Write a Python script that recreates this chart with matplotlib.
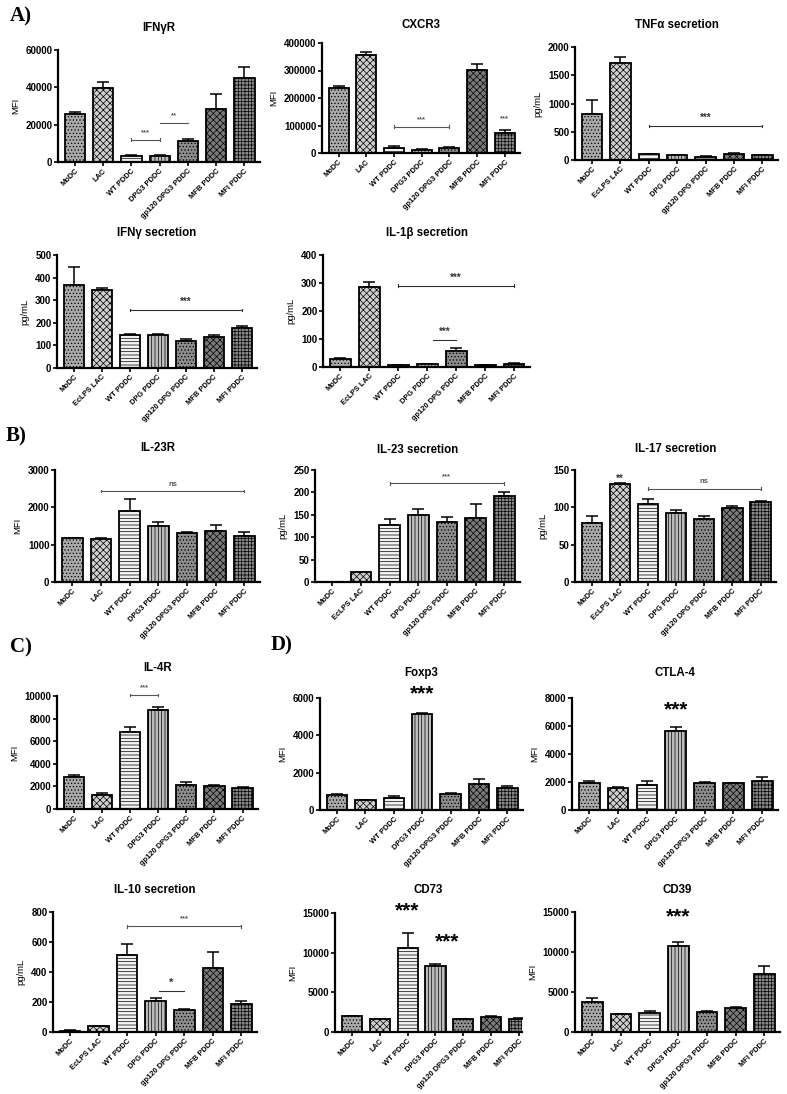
import matplotlib
matplotlib.use("Agg")
import matplotlib.pyplot as plt

plt.rcParams['font.family'] = ['Liberation Sans', 'DejaVu Sans']
plt.rcParams['font.weight'] = 'bold'
plt.rcParams['hatch.linewidth'] = 0.5

# category label sets used by the panels
groups_lac_dpg3 = ["MoDC", "LAC", "WT PDDC", "DPG3 PDDC", "gp120 DPG3 PDDC", "MFB PDDC", "MFI PDDC"]
groups_lps_dpg = ["MoDC", "EcLPS LAC", "WT PDDC", "DPG PDDC", "gp120 DPG PDDC", "MFB PDDC", "MFI PDDC"]

# values (mean) and upper error (SEM)
ifngr_mean = [25500, 39500, 3000, 3200, 11000, 28500, 45000]
ifngr_err = [1500, 3200, 1000, 300, 1500, 8000, 6000]
cxcr3_mean = [235000, 357000, 18000, 10000, 20000, 302000, 72000]
cxcr3_err = [10000, 11000, 9000, 3000, 3000, 23000, 11000]
tnfa_mean = [820, 1720, 100, 80, 60, 105, 90]
tnfa_err = [240, 110, 5, 3, 3, 15, 5]
ifng_mean = [368, 343, 148, 145, 118, 135, 177]
ifng_err = [77, 10, 4, 5, 10, 13, 8]
il1b_mean = [28, 285, 7, 10, 58, 6, 12]
il1b_err = [5, 20, 1, 2, 10, 1, 3]
il23r_mean = [1180, 1150, 1900, 1500, 1300, 1370, 1220]
il23r_err = [5, 30, 330, 100, 40, 150, 110]
il23_mean = [0, 22, 128, 150, 133, 142, 191]
il23_err = [0, 1, 12, 13, 11, 31, 11]
il17_mean = [79, 131, 104, 92, 85, 99, 107]
il17_err = [9, 1, 7, 5, 3, 3, 1]
il4r_mean = [2850, 1250, 6850, 8750, 2100, 2050, 1850]
il4r_err = [150, 200, 400, 300, 300, 100, 100]
foxp3_mean = [800, 530, 650, 5150, 850, 1400, 1200]
foxp3_err = [70, 10, 80, 50, 50, 250, 70]
ctla4_mean = [1900, 1600, 1800, 5650, 1900, 1900, 2050]
ctla4_err = [150, 10, 250, 250, 80, 10, 300]
il10_mean = [10, 38, 515, 210, 145, 428, 185]
il10_err = [2, 2, 75, 15, 10, 107, 25]
cd73_mean = [2000, 1600, 10600, 8300, 1600, 1950, 1700]
cd73_err = [20, 20, 1900, 300, 20, 100, 20]
cd39_mean = [3800, 2200, 2400, 10700, 2550, 3050, 7300]
cd39_err = [400, 20, 200, 600, 20, 20, 1000]

bar_styles = [
    ("#a9a9a9", "....."),
    ("#cfcfcf", "xxxxx"),
    ("#f2f2f2", "-----"),
    ("#bdbdbd", "|||||"),
    ("#8c8c8c", "....."),
    ("#7a7a7a", "xxxxx"),
    ("#8a8a8a", "+++++"),
]

W, H = 787, 1094
fig = plt.figure(figsize=(W / 100, H / 100), dpi=100)


def make_axes(left, top, right, bottom):
    return fig.add_axes([left / W, 1 - bottom / H, (right - left) / W, (bottom - top) / H])


def draw_panel(box, title, title_y, labels, means, errs, ymax, ystep, ylabel, xmax=6.55):
    ax = make_axes(*box)
    x = list(range(len(means)))
    for i in x:
        fc, hatch = bar_styles[i]
        ax.bar(i, means[i], width=0.72, color=fc, edgecolor="black", hatch=hatch, linewidth=1.3, zorder=2)
    ax.errorbar(x, means, yerr=[[0] * len(errs), errs], fmt="none", ecolor="black",
                elinewidth=1.1, capsize=4, capthick=1.1, zorder=1)
    ax.set_xlim(-0.6, xmax)
    ax.set_ylim(0, ymax)
    ax.set_yticks(range(0, ymax + 1, ystep))
    ax.set_xticks(x)
    ax.set_xticklabels(labels, rotation=45, ha="right", rotation_mode="anchor", fontsize=5.4)
    ax.tick_params(axis="y", labelsize=7, length=3, width=1.2, pad=1)
    ax.tick_params(axis="x", length=3, width=1.2, pad=1)
    for s in ["top", "right"]:
        ax.spines[s].set_visible(False)
    for s in ["left", "bottom"]:
        ax.spines[s].set_linewidth(1.6)
    ax.set_ylabel(ylabel, fontsize=6.8, labelpad=4)
    cx = (box[0] + box[2]) / 2
    fig.text(cx / W, 1 - title_y / H, title, ha="center", va="center", fontsize=8.3)
    return ax


def sig_line(ax, x0, x1, y, text, caps=True, fs=5.5, color="#555555"):
    ax.plot([x0, x1], [y, y], color=color, lw=0.8, clip_on=False)
    if caps:
        ymax = ax.get_ylim()[1]
        d = ymax * 0.012
        ax.plot([x0, x0], [y - d, y + d], color=color, lw=0.8, clip_on=False)
        ax.plot([x1, x1], [y - d, y + d], color=color, lw=0.8, clip_on=False)
    ax.text((x0 + x1) / 2, y + ax.get_ylim()[1] * 0.03, text, ha="center", va="bottom",
            fontsize=fs, color=color, clip_on=False)


def big_stars(ax, x, y):
    ax.text(x, y, "***", ha="center", va="center", fontsize=15, clip_on=False)


# panel letters
for txt, px, py in [("A)", 10, 16), ("B)", 6, 436), ("C)", 10, 647), ("D)", 271, 645)]:
    fig.text(px / W, 1 - py / H, txt, fontsize=15, fontweight="bold",
             family=["Liberation Serif", "DejaVu Serif"], ha="left", va="center")

ax = draw_panel((58, 50, 260, 162), "IFNγR", 28, groups_lac_dpg3, ifngr_mean, ifngr_err, 60000, 20000, "MFI")
sig_line(ax, 2.0, 3.0, 12000, "***")
sig_line(ax, 3.0, 4.0, 21000, "**", caps=False)

ax = draw_panel((322, 43, 520, 153), "CXCR3", 25, groups_lac_dpg3, cxcr3_mean, cxcr3_err, 400000, 100000, "MFI")
sig_line(ax, 2.0, 4.0, 96000, "***")
ax.text(6, 112000, "***", ha="center", va="bottom", fontsize=5.5, color="#555555")

ax = draw_panel((575, 47, 778, 160), "TNFα secretion", 25, groups_lps_dpg, tnfa_mean, tnfa_err, 2000, 500, "pg/mL")
sig_line(ax, 2.0, 6.0, 600, "***", fs=7, color="#333333")

ax = draw_panel((57, 255, 257, 368), "IFNγ secretion", 233, groups_lps_dpg, ifng_mean, ifng_err, 500, 100, "pg/mL")
sig_line(ax, 2.0, 6.0, 256, "***", fs=7, color="#333333")

ax = draw_panel((323, 255, 530, 367), "IL-1β secretion", 233, groups_lps_dpg, il1b_mean, il1b_err, 400, 100, "pg/mL")
sig_line(ax, 2.0, 6.0, 290, "***", fs=7, color="#333333")
sig_line(ax, 3.2, 4.0, 95, "***", caps=False, fs=7, color="#333333")

ax = draw_panel((55, 470, 260, 582), "IL-23R", 448, groups_lac_dpg3, il23r_mean, il23r_err, 3000, 1000, "MFI")
sig_line(ax, 1.0, 6.0, 2440, "ns")

ax = draw_panel((315, 470, 520, 582), "IL-23 secretion", 450, groups_lps_dpg, il23_mean, il23_err, 250, 50, "pg/mL")
sig_line(ax, 2.0, 6.0, 220, "***")

ax = draw_panel((575, 470, 776, 582), "IL-17 secretion", 449, groups_lps_dpg, il17_mean, il17_err, 150, 50, "pg/mL")
ax.text(1, 132, "**", ha="center", va="bottom", fontsize=7, color="#333333")
sig_line(ax, 2.0, 6.0, 125, "ns")

ax = draw_panel((57, 696, 258, 809), "IL-4R", 668, groups_lac_dpg3, il4r_mean, il4r_err, 10000, 2000, "MFI")
sig_line(ax, 2.0, 3.0, 10100, "***")

ax = draw_panel((320, 698, 523, 810), "Foxp3", 673, groups_lac_dpg3, foxp3_mean, foxp3_err, 6000, 2000, "MFI")
big_stars(ax, 3, 6200)

ax = draw_panel((572, 698, 778, 810), "CTLA-4", 673, groups_lac_dpg3, ctla4_mean, ctla4_err, 8000, 2000, "MFI")
big_stars(ax, 3, 7150)

ax = draw_panel((53, 912, 257, 1032), "IL-10 secretion", 890, groups_lps_dpg, il10_mean, il10_err, 800, 200, "pg/mL")
sig_line(ax, 2.0, 6.0, 705, "***")
sig_line(ax, 3.1, 4.0, 271, "*", caps=False, fs=8, color="#333333")

ax = draw_panel((335, 913, 522, 1032), "CD73", 890, groups_lac_dpg3, cd73_mean, cd73_err, 15000, 5000, "MFI", xmax=6.1)
big_stars(ax, 2, 15300)
big_stars(ax, 3.4, 11400)

ax = draw_panel((575, 912, 780, 1032), "CD39", 890, groups_lac_dpg3, cd39_mean, cd39_err, 15000, 5000, "MFI")
big_stars(ax, 3, 14400)

fig.savefig("out.png", dpi=100)
